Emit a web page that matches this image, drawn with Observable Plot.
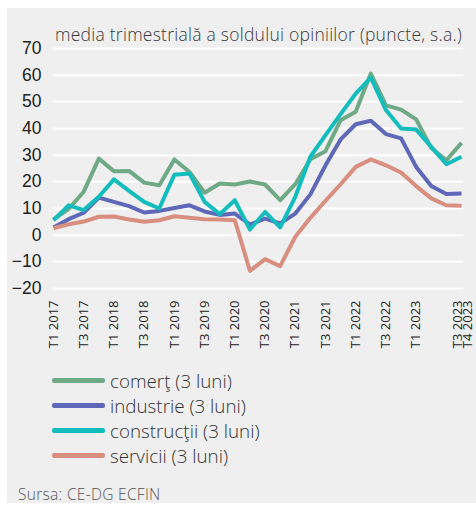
<!DOCTYPE html>
<html>
<head>
<meta charset="utf-8">
<script src="https://cdn.jsdelivr.net/npm/d3@7"></script>
<script src="https://cdn.jsdelivr.net/npm/@observablehq/plot@0.6"></script>
<style>
  body { margin: 0; background: #ffffff; width: 476px; height: 507px; overflow: hidden; position: relative; }
  #panel { position: absolute; left: 7px; top: 8px; width: 469px; height: 495px; background: #efefef; }
  #chart { position: absolute; left: 0; top: 0; }
  #title { position: absolute; left: 55px; top: 22px; font-family: "Open Sans", sans-serif; font-weight: 300; font-size: 17.5px; color: #3a3a3a; letter-spacing: 0.25px; white-space: nowrap; }
  #legend { position: absolute; left: 52px; top: 368px; font-family: "Open Sans", sans-serif; font-weight: 300; font-size: 18.8px; color: #333; }
  .row { height: 25.1px; display: flex; align-items: center; white-space: nowrap; }
  .sw { width: 53px; height: 5px; border-radius: 2px; margin-right: 5px; }
  #source { position: absolute; left: 18px; top: 483px; font-family: "Open Sans", sans-serif; font-weight: 300; font-size: 15.5px; color: #555; letter-spacing: 0.3px; white-space: nowrap; }
</style>
</head>
<body>
<div id="panel"></div>
<div id="chart"></div>
<div id="title"></div>
<div id="legend"></div>
<div id="source"></div>
<script>
const titleText = "media trimestrială a soldului opiniilor (puncte, s.a.)";
const sourceText = "Sursa: CE-DG ECFIN";

const quarters = [
  "T1 2017","T2 2017","T3 2017","T4 2017",
  "T1 2018","T2 2018","T3 2018","T4 2018",
  "T1 2019","T2 2019","T3 2019","T4 2019",
  "T1 2020","T2 2020","T3 2020","T4 2020",
  "T1 2021","T2 2021","T3 2021","T4 2021",
  "T1 2022","T2 2022","T3 2022","T4 2022",
  "T1 2023","T2 2023","T3 2023","T4 2023"
];

const seriesNames = ["comerţ (3 luni)", "industrie (3 luni)", "construcţii (3 luni)", "servicii (3 luni)"];
const seriesColors = ["#6fa986", "#5f68b8", "#14bdbd", "#d98f80"];

const comert = [5.9, 9.8, 16.3, 28.7, 24.0, 24.1, 19.7, 18.7, 28.4, 23.7, 15.9, 19.4, 19.0, 20.1, 19.0, 13.1, 19.1, 28.5, 31.5, 43.1, 46.3, 60.6, 48.7, 47.1, 43.4, 32.7, 28.1, 34.6];
const industrie = [2.9, 6.0, 8.4, 14.1, 12.5, 10.9, 8.5, 9.1, 10.2, 11.2, 8.9, 7.6, 8.1, 4.0, 6.2, 4.4, 8.1, 15.3, 26.2, 35.9, 41.6, 42.9, 37.9, 36.3, 25.6, 18.4, 15.4, 15.6];
const constructii = [5.6, 11.2, 9.4, 14.4, 20.9, 16.6, 12.5, 10.0, 22.7, 23.1, 12.5, 7.9, 13.1, 2.1, 8.7, 2.9, 14.4, 29.4, 37.5, 45.4, 53.1, 59.1, 46.9, 40.0, 39.6, 33.1, 26.6, 29.4];
const servicii = [2.6, 4.1, 5.1, 6.9, 7.0, 5.9, 5.0, 5.6, 7.1, 6.5, 6.0, 5.9, 5.6, -13.4, -9.0, -11.6, -0.6, 6.5, 12.9, 19.1, 25.6, 28.4, 26.2, 23.5, 18.4, 13.8, 11.2, 11.0];

const yTicks = [-20, -10, 0, 10, 20, 30, 40, 50, 60, 70];
const xTickLabels = ["T1 2017","T3 2017","T1 2018","T3 2018","T1 2019","T3 2019","T1 2020","T3 2020","T1 2021","T3 2021","T1 2022","T3 2022","T1 2023","T3 2023","T4 2023"];

const allSeries = [comert, industrie, constructii, servicii];
const data = allSeries.flatMap((vals, s) => vals.map((v, i) => ({i, v, s: seriesNames[s]})));
const idx = q => quarters.indexOf(q);
const mainTicks = xTickLabels.slice(0, 13).map(idx);

const yFont = '"Liberation Sans", Arimo, sans-serif';
const xFont = '"Open Sans", sans-serif';
const xAxisStyle = {tickRotate: -90, tickSize: 0, tickPadding: 12, label: null, fontSize: "13px", fontFamily: xFont, fill: "#222"};

const chart = Plot.plot({
  width: 476,
  height: 365,
  marginLeft: 53,
  marginRight: 15,
  marginTop: 48,
  marginBottom: 77,
  style: {background: "transparent", fontFamily: yFont, fontSize: "17.5px", color: "#222", overflow: "visible"},
  x: {type: "linear", domain: [0, quarters.length - 1]},
  y: {domain: [-20, 70]},
  color: {domain: seriesNames, range: seriesColors},
  marks: [
    Plot.ruleY(yTicks, {stroke: "#ffffff", strokeWidth: 2, x1: 0, x2: quarters.length - 1, insetRight: -2}),
    Plot.axisY({ticks: yTicks, tickSize: 0, tickPadding: 12, label: null, letterSpacing: "-1.2px", fill: "#222"}),
    Plot.axisX({ticks: mainTicks, tickFormat: i => quarters[i], ...xAxisStyle}),
    Plot.axisX({ticks: [idx("T3 2023")], tickFormat: i => quarters[i], dx: 11, ...xAxisStyle}),
    Plot.axisX({ticks: [idx("T4 2023")], tickFormat: i => quarters[i], dx: 6, ...xAxisStyle}),
    Plot.lineY(data, {x: "i", y: "v", z: "s", stroke: "s", strokeWidth: 4, strokeLinejoin: "round", strokeLinecap: "butt"})
  ]
});
document.getElementById("chart").appendChild(chart);

document.getElementById("title").textContent = titleText;
document.getElementById("source").textContent = sourceText;
const legend = document.getElementById("legend");
seriesNames.forEach((name, k) => {
  const row = document.createElement("div");
  row.className = "row";
  const sw = document.createElement("span");
  sw.className = "sw";
  sw.style.background = seriesColors[k];
  const t = document.createElement("span");
  t.textContent = name;
  row.appendChild(sw);
  row.appendChild(t);
  legend.appendChild(row);
});
</script>
</body>
</html>
